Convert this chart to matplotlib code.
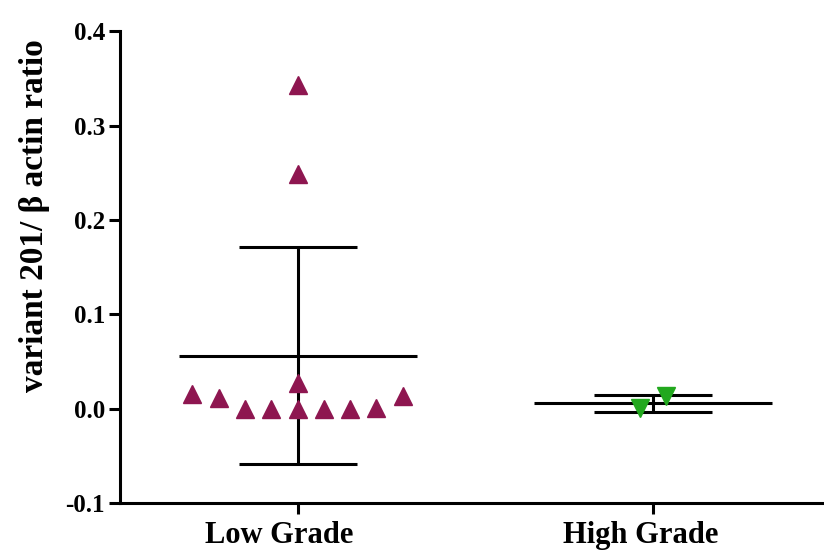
import numpy as np
import matplotlib.pyplot as plt
import matplotlib.transforms as mtransforms

plt.rcParams['font.family'] = ['Liberation Serif', 'DejaVu Serif']
plt.rcParams['font.weight'] = 'bold'

groups = ['Low Grade', 'High Grade']
low_vals = [0.016, 0.011, 0.0, 0.0, 0.0, 0.0, 0.0, 0.001, 0.014, 0.027, 0.249, 0.343]
high_vals = [0.001, 0.014]
low_mean, low_sd = 0.056, 0.115
high_mean, high_sd = 0.006, 0.009

# column-scatter slots (horizontal spread of points)
low_slots = [-4, -3, -2, -1, 0, 1, 2, 3, 4, 0, 0, 0]
high_slots = [-0.5, 0.5]
slot_w = 0.074

fig = plt.figure(figsize=(8.24, 5.56), dpi=100)
ax = fig.add_axes([0.146, 0.095, 0.854, 0.849])

ax.plot(np.array(low_slots) * slot_w + 0, low_vals, '^', ms=13,
        color='#8e1650', mec='#8e1650', ls='none', zorder=3)
ax.plot(np.array(high_slots) * slot_w + 1, high_vals, 'v', ms=13,
        color='#22a81e', mec='#22a81e', ls='none', zorder=3)

for x, m, s in [(0, low_mean, low_sd), (1, high_mean, high_sd)]:
    ax.hlines(m, x - 0.335, x + 0.335, color='black', lw=2.2, zorder=2)
    ax.hlines([m - s, m + s], x - 0.166, x + 0.166, color='black', lw=2.2, zorder=2)
    ax.vlines(x, m - s, m + s, color='black', lw=2.2, zorder=2)

ax.set_xlim(-0.499, 1.482)
ax.set_ylim(-0.1, 0.4)
ax.set_yticks([-0.1, 0.0, 0.1, 0.2, 0.3, 0.4])
ax.set_yticklabels(['-0.1', '0.0', '0.1', '0.2', '0.3', '0.4'])
ax.set_xticks([0, 1])
ax.set_xticklabels(groups, fontsize=22)
ax.tick_params(axis='y', labelsize=18, width=2.2, length=8, pad=3)
ax.tick_params(axis='x', width=2.2, length=8, pad=5)

# labels in the original sit a little left of their ticks
for lbl, dx in zip(ax.get_xticklabels(), [-18, -12]):
    lbl.set_transform(lbl.get_transform() +
                      mtransforms.ScaledTranslation(dx / 100, 0, fig.dpi_scale_trans))

ax.set_ylabel('variant 201/ β actin ratio', fontsize=24, fontweight='bold')
ax.yaxis.set_label_coords(-0.1, 0.61)

for side in ['top', 'right']:
    ax.spines[side].set_visible(False)
for side in ['left', 'bottom']:
    ax.spines[side].set_linewidth(2.2)

fig.savefig('out.png', dpi=100)
